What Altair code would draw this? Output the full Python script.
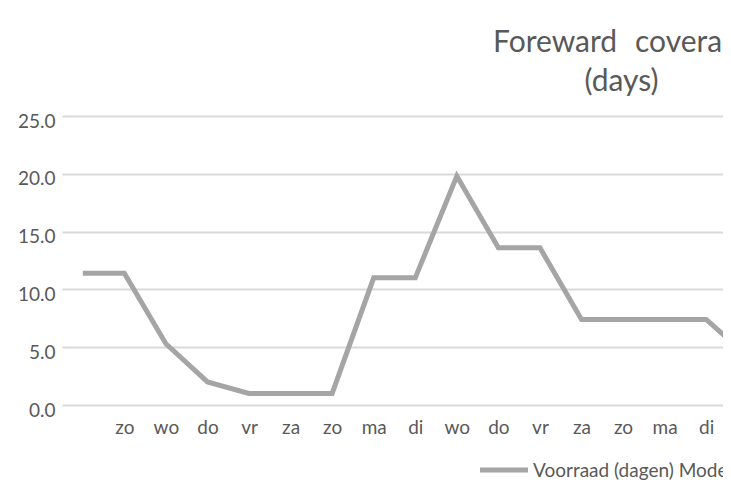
import altair as alt
import pandas as pd

# ---- data ----
day_labels = ["", "zo", "wo", "do", "vr", "za", "zo", "ma", "di",
              "wo", "do", "vr", "za", "zo", "ma", "di"]
coverage_days = [11.4, 11.4, 5.3, 2.0, 1.0, 1.0, 1.0, 11.0, 11.0,
                 19.8, 13.6, 13.6, 7.4, 7.4, 7.4, 7.4, 4.2]
y_ticks = [0, 5, 10, 15, 20, 25]
title_words = ["Foreward", "coverage"]
title_line2 = "(days)"
series_name = "Voorraad (dagen) Model"

FONT = "Lato"
TEXT = "#595959"
LINE = "#a5a5a5"
GRID = "#d9d9d9"

PLOT_W = 661          # plot area width (page x 62 .. 723)
STEP = 41.56          # pixels per category in the reference
x_max = -0.5 + PLOT_W / STEP

df = pd.DataFrame({"idx": list(range(len(coverage_days))), "value": coverage_days})
label_expr = "[" + ",".join("'%s'" % d for d in day_labels) + "][datum.value]"

line = alt.Chart(df).mark_line(color=LINE, strokeWidth=5, clip=True).encode(
    x=alt.X("idx:Q",
            scale=alt.Scale(domain=[-0.5, x_max], nice=False, zero=False),
            axis=alt.Axis(values=list(range(len(day_labels))), labelExpr=label_expr,
                          title=None, grid=False, domain=False, ticks=False,
                          labelFont=FONT, labelFontSize=19, labelColor=TEXT,
                          labelBaseline="alphabetic", labelPadding=28,
                          labelAlign="center", labelFlush=False, labelOverlap=False)),
    y=alt.Y("value:Q",
            scale=alt.Scale(domain=[0, 25], nice=False),
            axis=alt.Axis(values=y_ticks, format=".1f", title=None, grid=True,
                          gridColor=GRID, gridWidth=2, domain=False, ticks=False,
                          labelFont=FONT, labelFontSize=19, labelColor=TEXT,
                          labelPadding=7, labelBaseline="middle", labelOffset=5,
                          labelFlush=False, labelOverlap=False)),
)

one = pd.DataFrame({"a": [0]})

title1a = alt.Chart(one).mark_text(
    text=title_words[0], font=FONT, fontSize=30, color=TEXT, align="left", baseline="alphabetic"
).encode(x=alt.value(431), y=alt.value(-64))

title1b = alt.Chart(one).mark_text(
    text=title_words[1], font=FONT, fontSize=30, color=TEXT, align="left", baseline="alphabetic"
).encode(x=alt.value(573), y=alt.value(-64))

title2 = alt.Chart(one).mark_text(
    text=title_line2, font=FONT, fontSize=30, color=TEXT, align="center", baseline="alphabetic"
).encode(x=alt.value(559.5), y=alt.value(-25))

legend_line = alt.Chart(one).mark_rule(color=LINE, strokeWidth=5).encode(
    x=alt.value(418), x2=alt.value(466), y=alt.value(354)
)

legend_text = alt.Chart(one).mark_text(
    text=series_name, font=FONT, fontSize=19, color=TEXT, align="left", baseline="alphabetic"
).encode(x=alt.value(471), y=alt.value(361))

chart = alt.layer(line, title1a, title1b, title2, legend_line, legend_text).properties(
    width=PLOT_W, height=289,
    autosize=alt.AutoSizeParams(type="none"),
    padding={"left": 54, "top": 108, "right": 0, "bottom": 80},
).configure_view(stroke=None)

chart.save("out.html", embed_options={"renderer": "svg", "actions": False})
